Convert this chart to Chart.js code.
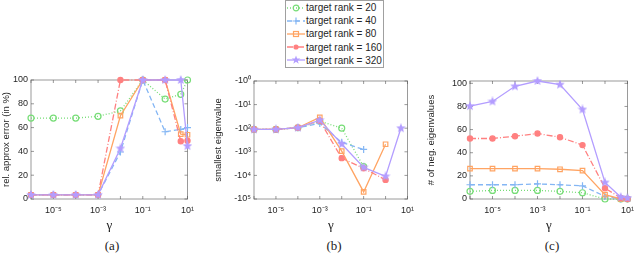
<!DOCTYPE html>
<html>
<head>
<meta charset="utf-8">
<script src="https://cdn.jsdelivr.net/npm/chart.js@4.4.1/dist/chart.umd.min.js"></script>
<style>
  body { margin: 0; width: 640px; height: 270px; background: #fff; position: relative; overflow: hidden;
         font-family: "Liberation Sans", Arial, sans-serif; }
  canvas { position: absolute; }
  .sub { position: absolute; top: 238px; font-family: "Liberation Serif", serif; font-size: 13px; color: #222;
         transform: translateX(-50%); }
  #legend { position: absolute; left: 285px; top: 0px; width: 97px; height: 66px; border: 1px solid #a0a0a0;
            background: #fff; font-family: "Liberation Sans", Arial, sans-serif; font-size: 10px; color: #262626;
            white-space: nowrap; }
  #legend .row { height: 13.2px; display: flex; align-items: center; }
  #legend svg { margin: 0 1px 0 1px; flex: none; }
</style>
</head>
<body>
<div id="legend"></div>
<canvas id="chartA" width="200" height="165" style="left:0px; top:70px"></canvas>
<canvas id="chartB" width="208" height="165" style="left:212px; top:70px"></canvas>
<canvas id="chartC" width="215" height="165" style="left:425px; top:70px"></canvas>
<div class="sub" style="left:112px">(a)</div>
<div class="sub" style="left:334px">(b)</div>
<div class="sub" style="left:552px">(c)</div>

<script>
// gamma values (x axis) and labels
const gammas = [1e-6, 1e-5, 1e-4, 1e-3, 1e-2, 1e-1, 1, 5, 10];
const rankLabels = ['target rank = 20', 'target rank = 40', 'target rank = 80', 'target rank = 160', 'target rank = 320'];
const xTickValues = [1e-5, 1e-3, 1e-1, 10];
const xTickLabels = ['10⁻⁵', '10⁻³', '10⁻¹', '10¹'];

// (a) rel. approx error in %
const errRank20 = [68, 68, 68, 69.5, 74, 100, 84, 88, 100];
const errRank40 = [3.5, 3.5, 3.5, 3.5, 39.5, 100, 56.5, 58.5, 60];
const errRank80 = [3.5, 3.5, 3.5, 3.5, 70, 100, 100, 54.5, 54];
const errRank160 = [3.5, 3.5, 3.5, 3.5, 100, 100, 100, 48.5, 49];
const errRank320 = [3.5, 3.5, 3.5, 3.5, 42.5, 100, 100, 100, 44.5];

// (b) smallest eigenvalue, stored as k in -10^k
const eigRank20 = [2.05, 2.05, 1.98, 1.7, 2.0, 3.63, null, null, null];
const eigRank40 = [2.05, 2.05, 1.98, 1.8, 2.6, 2.9, null, null, null];
const eigRank80 = [2.05, 2.05, 1.98, 1.54, 2.97, 4.7, 2.68, null, null];
const eigRank160 = [2.05, 2.05, 1.98, 1.68, 3.27, 3.7, 4.19, null, null];
const eigRank320 = [2.05, 2.05, 1.98, 1.66, 2.67, 3.66, 4.04, 2.0, null];
const eigTickLabels = ['-10⁰', '-10¹', '-10²', '-10³', '-10⁴', '-10⁵'];

// (c) number of negative eigenvalues
const negRank20 = [6.6, 7.4, 7.4, 7.4, 6.6, 5.4, 0, 0, 0];
const negRank40 = [12.3, 12.3, 12.3, 13.1, 12.3, 11.4, 2.3, 0, 0];
const negRank80 = [26.3, 26.3, 26.3, 26.3, 25.7, 24.6, 3.7, 0, 0];
const negRank160 = [52.3, 52.3, 54.3, 56.6, 53.4, 46.6, 9.4, 0.9, 0];
const negRank320 = [80.3, 84.3, 97.4, 102, 98.9, 77.4, 14.3, 1.7, 0.9];

// styles per rank
const colors = ['#77dd77', '#84b6f4', '#ffa463', '#ff8080', '#b39dff'];
const dashes = [[1, 2], [5, 3], [], [6, 2, 1, 2], []];

// filled 5-point star for rank 320
function starImage() {
    const c = document.createElement('canvas');
    c.width = 10; c.height = 10;
    const g = c.getContext('2d');
    g.fillStyle = colors[4];
    g.beginPath();
    for (let i = 0; i < 10; i++) {
        const r = i % 2 === 0 ? 5 : 2.2;
        const a = -Math.PI / 2 + i * Math.PI / 5;
        g.lineTo(5 + r * Math.cos(a), 5 + r * Math.sin(a));
    }
    g.closePath();
    g.fill();
    return c;
}
const star = starImage();

const pointStyles = ['circle', 'cross', 'rect', 'circle', star];
const pointFills = ['rgba(0,0,0,0)', 'rgba(0,0,0,0)', 'rgba(0,0,0,0)', colors[3], colors[4]];
const pointRadii = [3, 3.5, 3.2, 2.6, 4];

// box + inward ticks like matlab
const boxPlugin = {
    id: 'matlabBox',
    beforeDatasetsDraw(chart) {
        const { ctx, chartArea: a, scales } = chart;
        ctx.save();
        ctx.strokeStyle = '#9a9a9a';
        ctx.lineWidth = 1;
        ctx.strokeRect(a.left, a.top, a.width, a.height);
        ctx.strokeStyle = '#555';
        ctx.lineWidth = 0.6;
        ctx.beginPath();
        for (let d = -6; d <= 1; d++) {
            const px = scales.x.getPixelForValue(Math.pow(10, d));
            ctx.moveTo(px, a.bottom); ctx.lineTo(px, a.bottom - 3);
            ctx.moveTo(px, a.top); ctx.lineTo(px, a.top + 3);
        }
        scales.y.ticks.forEach(t => {
            const py = scales.y.getPixelForValue(t.value);
            ctx.moveTo(a.left, py); ctx.lineTo(a.left + 3, py);
            ctx.moveTo(a.right, py); ctx.lineTo(a.right - 3, py);
        });
        ctx.stroke();
        ctx.restore();
    }
};

function makeDatasets(series) {
    return series.map((vals, i) => ({
        label: rankLabels[i],
        data: gammas.map((g, j) => ({ x: g, y: vals[j] })),
        borderColor: colors[i],
        borderWidth: 1.3,
        borderDash: dashes[i],
        pointStyle: pointStyles[i],
        pointRadius: pointRadii[i],
        pointBorderWidth: 1.2,
        pointBorderColor: colors[i],
        pointBackgroundColor: pointFills[i],
        tension: 0,
        clip: false,
        order: 5 - i
    }));
}

function createChart(id, series, yOpts, layout) {
    const tickFont = { family: 'Liberation Sans', size: 9 };
    new Chart(document.getElementById(id), {
        type: 'line',
        data: { datasets: makeDatasets(series) },
        plugins: [boxPlugin],
        options: {
            responsive: false,
            animation: false,
            devicePixelRatio: 1,
            layout: { padding: { top: layout.top, right: layout.right, left: 0, bottom: 0 } },
            plugins: { legend: { display: false }, tooltip: { enabled: false } },
            scales: {
                x: {
                    type: 'logarithmic',
                    min: 1e-6,
                    max: 10,
                    afterBuildTicks: axis => { axis.ticks = xTickValues.map(v => ({ value: v })); },
                    afterFit: axis => { axis.height = layout.xHeight; },
                    ticks: {
                        autoSkip: false, maxRotation: 0, padding: 6, color: '#262626', font: tickFont,
                        callback: v => xTickLabels[xTickValues.findIndex(t => Math.abs(t - v) / t < 1e-6)]
                    },
                    grid: { drawOnChartArea: false, drawTicks: false },
                    border: { display: false },
                    title: { display: true, text: 'γ', color: '#222', padding: { top: 0, bottom: 2 },
                             font: { family: 'Liberation Serif', size: 13 } }
                },
                y: Object.assign({
                    afterFit: axis => { axis.width = layout.yWidth; },
                    grid: { drawOnChartArea: false, drawTicks: false },
                    border: { display: false },
                    title: { display: true, text: yOpts.title, color: '#262626', padding: { top: 1, bottom: 0 },
                             font: { family: 'Liberation Sans', size: 9.5 } }
                }, yOpts.scale)
            }
        }
    });
}

createChart('chartA', [errRank20, errRank40, errRank80, errRank160, errRank320], {
    title: 'rel. approx error (in %)',
    scale: {
        min: 0, max: 100,
        afterBuildTicks: axis => { axis.ticks = [0, 20, 40, 60, 80, 100].map(v => ({ value: v })); },
        ticks: { padding: 3, color: '#262626', font: { family: 'Liberation Sans', size: 9 } }
    }
}, { top: 10, right: 6, yWidth: 31, xHeight: 36 });

createChart('chartB', [eigRank20, eigRank40, eigRank80, eigRank160, eigRank320], {
    title: 'smallest eigenvalue',
    scale: {
        min: 0, max: 5, reverse: true,
        afterBuildTicks: axis => { axis.ticks = [0, 1, 2, 3, 4, 5].map(v => ({ value: v })); },
        ticks: { padding: 3, color: '#262626', font: { family: 'Liberation Sans', size: 9 },
                 callback: v => eigTickLabels[Math.round(v)] }
    }
}, { top: 11, right: 7, yWidth: 42, xHeight: 36 });

createChart('chartC', [negRank20, negRank40, negRank80, negRank160, negRank320], {
    title: '# of neg. eigenvalues',
    scale: {
        min: 0, max: 102,
        afterBuildTicks: axis => { axis.ticks = [0, 20, 40, 60, 80, 100].map(v => ({ value: v })); },
        ticks: { padding: 3, color: '#262626', font: { family: 'Liberation Sans', size: 9 } }
    }
}, { top: 11, right: 7, yWidth: 45, xHeight: 36 });

// legend box at the top
const legend = document.getElementById('legend');
const markerSvg = [
    '<circle cx="9" cy="5" r="2.8" fill="none" stroke="' + colors[0] + '" stroke-width="1.2"/>',
    '<path d="M9 1.5V8.5M5.5 5H12.5" stroke="' + colors[1] + '" stroke-width="1.2"/>',
    '<rect x="6.5" y="2.5" width="5" height="5" fill="none" stroke="' + colors[2] + '" stroke-width="1.2"/>',
    '<circle cx="9" cy="5" r="2.6" fill="' + colors[3] + '"/>',
    '<polygon points="9,0.5 10.1,3.6 13.3,3.6 10.7,5.6 11.7,8.7 9,6.8 6.3,8.7 7.3,5.6 4.7,3.6 7.9,3.6" fill="' + colors[4] + '"/>'
];
rankLabels.forEach((label, i) => {
    const row = document.createElement('div');
    row.className = 'row';
    row.innerHTML = '<svg width="18" height="10"><line x1="0" y1="5" x2="18" y2="5" stroke="' + colors[i] +
        '" stroke-width="1.3" stroke-dasharray="' + dashes[i].join(' ') + '"/>' + markerSvg[i] + '</svg>' +
        '<span>' + label + '</span>';
    legend.appendChild(row);
});
</script>
</body>
</html>
